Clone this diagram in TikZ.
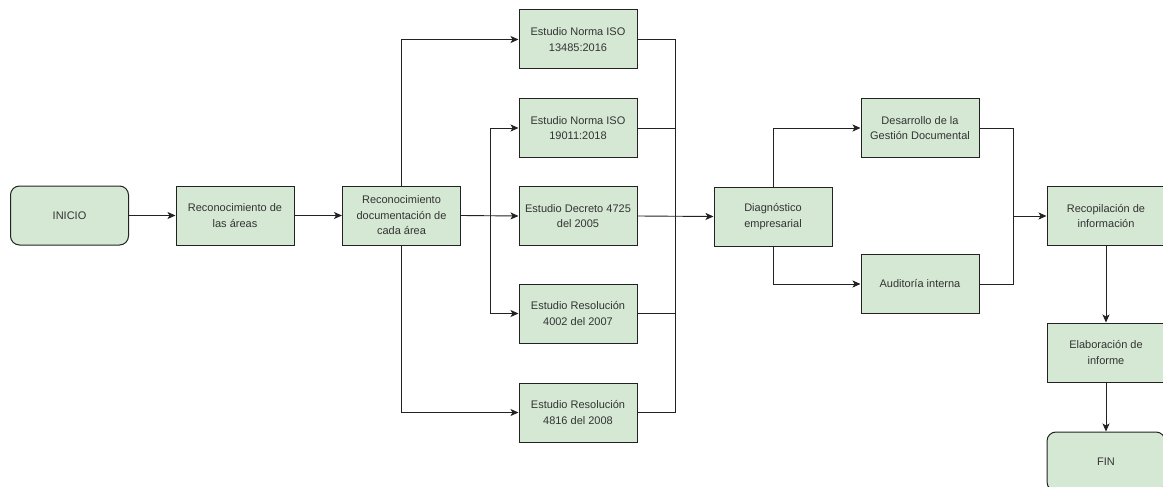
\documentclass[tikz,border=0pt]{standalone}
\usepackage{fontspec}
\setmainfont{Liberation Sans}
\usetikzlibrary{arrows.meta}
\definecolor{boxfill}{HTML}{D5E8D4}
\definecolor{txt}{HTML}{333333}
\definecolor{ln}{HTML}{222222}
\begin{document}
\begin{tikzpicture}[x=1pt,y=-1pt,
  box/.style={draw=ln,line width=1pt,fill=boxfill,minimum width=118pt,minimum height=59pt,inner sep=0pt,align=center,text=txt,font=\fontsize{11}{15.5}\selectfont},
  term/.style={box,rounded corners=9pt},
  conn/.style={draw=ln,line width=0.9pt},
  arr/.style={conn,-{Stealth[length=8pt,width=7pt,inset=2pt]}}]
\clip (0,0) rectangle (1163,487);
\fill[white] (0,0) rectangle (1163,487);
\node[term] (inicio) at (69.5,215.5) {INICIO};
\node[box] (rec) at (235,215.5) {Reconocimiento de\\las áreas};
\node[box] (doc) at (401.5,215.5) {Reconocimiento\\documentación de\\cada área};
\node[box] (iso1) at (578,39.5) {Estudio Norma ISO\\13485:2016};
\node[box] (iso2) at (578,128) {Estudio Norma ISO\\19011:2018};
\node[box] (dec) at (578,216) {Estudio Decreto 4725\\del 2005};
\node[box] (r4002) at (578,313.5) {Estudio Resolución\\4002 del 2007};
\node[box] (r4816) at (578,412.5) {Estudio Resolución\\4816 del 2008};
\node[box] (diag) at (773,216.5) {Diagnóstico\\empresarial};
\node[box] (des) at (920,128) {Desarrollo de la\\Gestión Documental};
\node[box] (aud) at (920,284) {Auditoría interna};
\node[box] (recop) at (1106,216) {Recopilación de\\información};
\node[box] (elab) at (1106,352.5) {Elaboración de\\informe};
\node[term] (fin) at (1106,461.5) {FIN};
\coordinate (b1) at (490,216);
\coordinate (m1) at (675,216);
\coordinate (m2) at (1013,216);
\draw[arr] (inicio) -- (rec);
\draw[arr] (rec) -- (doc);
\draw[arr] (doc.north) |- (iso1.west);
\draw[arr] (doc.south) |- (r4816.west);
\draw[arr] (doc.east) -- (dec.west);
\draw[arr] (b1) |- (iso2.west);
\draw[arr] (b1) |- (r4002.west);
\draw[conn] (iso1.east) -| (m1);
\draw[conn] (iso2.east) -| (m1);
\draw[conn] (r4002.east) -| (m1);
\draw[conn] (r4816.east) -| (m1);
\draw[arr] (dec.east) -- (diag.west);
\draw[arr] (diag.north) |- (des.west);
\draw[arr] (diag.south) |- (aud.west);
\draw[conn] (des.east) -| (m2);
\draw[conn] (aud.east) -| (m2);
\draw[arr] (m2) -- (recop.west);
\draw[arr] (recop) -- (elab);
\draw[arr] (elab) -- (fin);
\end{tikzpicture}
\end{document}
